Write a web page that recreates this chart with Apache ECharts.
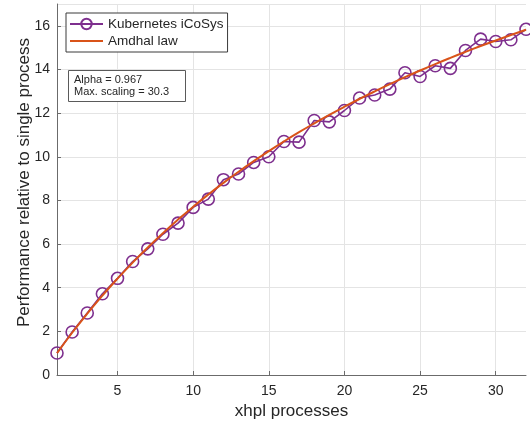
<!DOCTYPE html>
<html>
<head>
<meta charset="utf-8">
<script src="https://cdn.jsdelivr.net/npm/echarts@6/dist/echarts.min.js"></script>
<style>
  html, body { margin: 0; padding: 0; background: #fff; }
  #chart { width: 530px; height: 421px; }
</style>
</head>
<body>
<div id="chart"></div>
<script>
// Number of xhpl processes
const processes = [1, 2, 3, 4, 5, 6, 7, 8, 9, 10, 11, 12, 13, 14, 15, 16,
                   17, 18, 19, 20, 21, 22, 23, 24, 25, 26, 27, 28, 29, 30, 31, 32];
// Measured speed-up on the Kubernetes iCoSys cluster
const measured = [1.01, 1.97, 2.84, 3.72, 4.43, 5.20, 5.78, 6.45, 6.96, 7.68, 8.06, 8.95,
                  9.21, 9.74, 10.00, 10.70, 10.67, 11.66, 11.60, 12.12, 12.69, 12.83, 13.10, 13.85,
                  13.68, 14.17, 14.05, 14.87, 15.39, 15.28, 15.36, 15.84];
// Amdahl fit (alpha = 0.967)
const amdahl = [1.000, 1.936, 2.814, 3.640, 4.417, 5.150, 5.843, 6.499, 7.120, 7.710, 8.271, 8.804,
                9.312, 9.797, 10.260, 10.702, 11.126, 11.531, 11.920, 12.293, 12.651, 12.995, 13.326, 13.644,
                13.951, 14.247, 14.532, 14.807, 15.073, 15.330, 15.578, 15.818];
const xTicks = [5, 10, 15, 20, 25, 30];
const fitNote = 'Alpha = 0.967\nMax. scaling = 30.3';

const FONT = "'Liberation Sans', Arial, Helvetica, sans-serif";
const PURPLE = '#7E2F8E';
const ORANGE = '#D95319';
const AXIS = '#6b6b6b';
const GRID = '#e4e4e4';
const TEXT = '#262626';

const chart = echarts.init(document.getElementById('chart'), null, { renderer: 'canvas' });

chart.setOption({
  backgroundColor: '#fff',
  animation: false,
  textStyle: { fontFamily: FONT },
  grid: { left: 57, right: 4, top: 4, bottom: 46, containLabel: false, outerBoundsMode: 'none' },
  title: {
    text: fitNote,
    left: 68,
    top: 70,
    padding: [4, 17, 4, 6],
    borderColor: '#5a5a5a',
    borderWidth: 1,
    backgroundColor: '#fff',
    textStyle: { fontFamily: FONT, fontSize: 11, fontWeight: 'normal', color: TEXT, lineHeight: 12 }
  },
  legend: {
    orient: 'vertical',
    left: 66,
    top: 13,
    padding: [4, 4, 4, 3],
    itemGap: 3,
    itemWidth: 33,
    itemHeight: 13,
    borderColor: '#3a3a3a',
    borderWidth: 1,
    backgroundColor: '#fff',
    textStyle: { fontFamily: FONT, fontSize: 13.5, color: TEXT },
    data: [
      { name: 'Kubernetes iCoSys' },
      { name: 'Amdhal law', itemStyle: { opacity: 0 } }
    ]
  },
  xAxis: {
    type: 'value',
    min: 1,
    max: 32,
    name: 'xhpl processes',
    nameLocation: 'middle',
    nameGap: 28,
    nameMoveOverlap: false,
    nameTextStyle: { fontFamily: FONT, fontSize: 17, color: TEXT },
    axisLine: { show: true, onZero: false, lineStyle: { color: AXIS, width: 1 } },
    axisTick: { show: true, inside: true, length: 4, customValues: xTicks, lineStyle: { color: AXIS } },
    axisLabel: { customValues: xTicks, fontFamily: FONT, fontSize: 14, color: TEXT, margin: 9 },
    splitLine: { show: true, lineStyle: { color: GRID, width: 1 } }
  },
  yAxis: {
    type: 'value',
    min: 0,
    max: 17,
    interval: 2,
    name: 'Performance relative to single process',
    nameLocation: 'middle',
    nameGap: 24,
    nameMoveOverlap: false,
    nameTextStyle: { fontFamily: FONT, fontSize: 17, color: TEXT, padding: [0, 0, 0, 14] },
    axisLine: { show: true, lineStyle: { color: AXIS, width: 1 } },
    axisTick: { show: true, inside: true, length: 4, lineStyle: { color: AXIS } },
    axisLabel: { fontFamily: FONT, fontSize: 14, color: TEXT, margin: 7,
                 showMaxLabel: false },
    splitLine: { show: true, lineStyle: { color: GRID, width: 1 } }
  },
  series: [
    {
      name: 'Kubernetes iCoSys',
      type: 'line',
      data: processes.map((p, i) => [p, measured[i]]),
      symbol: 'circle',
      symbolSize: 12,
      showAllSymbol: true,
      lineStyle: { color: PURPLE, width: 1.6 },
      itemStyle: { color: 'rgba(255,255,255,0)', borderColor: PURPLE, borderWidth: 1.6 },
      emphasis: { disabled: true },
      z: 2
    },
    {
      name: 'Amdhal law',
      type: 'line',
      data: processes.map((p, i) => [p, amdahl[i]]),
      smooth: true,
      symbol: 'none',
      lineStyle: { color: ORANGE, width: 2 },
      itemStyle: { color: ORANGE },
      emphasis: { disabled: true },
      z: 3
    }
  ]
});
</script>
</body>
</html>
